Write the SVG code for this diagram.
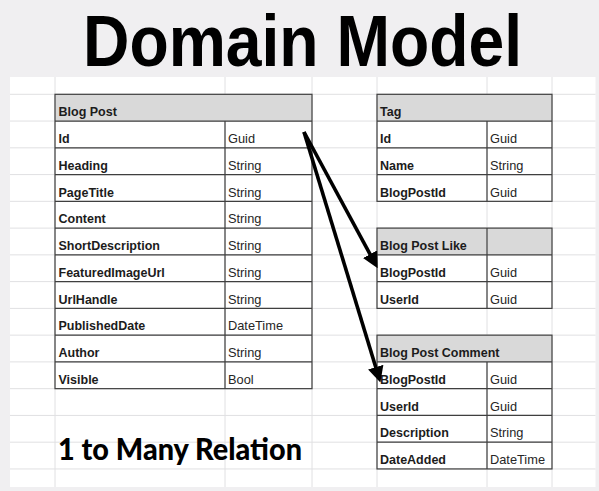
<svg xmlns="http://www.w3.org/2000/svg" width="599" height="491" viewBox="0 0 599 491">
<style>
.grid{stroke:#e0e0e2;stroke-width:1;fill:none}
.hdr{fill:#d9d9d9}
.bd{stroke:#3f3f3f;stroke-width:1.2;fill:none}
.n{font-family:"Liberation Sans",Arial,sans-serif;font-weight:bold;font-size:12.5px;fill:#1c1c1c}
.t{font-family:"Liberation Sans",Arial,sans-serif;font-size:12.8px;fill:#262626}
.big{font-weight:900;fill:#000}
.arr{stroke:#000;stroke-width:3.6;fill:none;marker-end:url(#ah)}
</style>
<defs>
<marker id="ah" markerUnits="userSpaceOnUse" markerWidth="16" markerHeight="16" refX="8" refY="7.5" orient="auto" viewBox="0 0 15 15">
<path d="M0,0 L15,7.5 L0,15 z" fill="#000"/>
</marker>
</defs>
<rect width="599" height="491" fill="#f0eff1"/>
<rect x="10" y="77" width="585.5" height="410" fill="#fff"/>
<g class="grid">
<path d="M10,94.3H595.5M10,121.06H595.5M10,147.82H595.5M10,174.58H595.5M10,201.34H595.5M10,228.1H595.5M10,254.86H595.5M10,281.62H595.5M10,308.38H595.5M10,335.14H595.5M10,361.9H595.5M10,388.66H595.5M10,415.42H595.5M10,442.18H595.5M10,468.94H595.5"/>
<path d="M55,77V487M225,77V487M312,77V487M377,77V487M487,77V487M552,77V487"/>
</g>
<text class="big" x="83" y="65.7" font-family="'Liberation Sans',Arial,sans-serif" font-size="72" textLength="439" lengthAdjust="spacingAndGlyphs">Domain Model</text>

<g id="blogpost">
<rect class="hdr" x="55" y="94.3" width="257" height="26.76"/>
<rect class="bd" x="55" y="94.3" width="257" height="294.36"/>
<path class="bd" d="M55,121.06H312M55,147.82H312M55,174.58H312M55,201.34H312M55,228.1H312M55,254.86H312M55,281.62H312M55,308.38H312M55,335.14H312M55,361.9H312M225,121.06V388.66"/>
<text class="n" x="58.5" y="116.3">Blog Post</text>
<text class="n" x="58.5" y="143">Id</text><text class="t" x="228" y="143">Guid</text>
<text class="n" x="58.5" y="169.8">Heading</text><text class="t" x="228" y="169.8">String</text>
<text class="n" x="58.5" y="196.5">PageTitle</text><text class="t" x="228" y="196.5">String</text>
<text class="n" x="58.5" y="223.3">Content</text><text class="t" x="228" y="223.3">String</text>
<text class="n" x="58.5" y="250.1">ShortDescription</text><text class="t" x="228" y="250.1">String</text>
<text class="n" x="58.5" y="276.8">FeaturedImageUrl</text><text class="t" x="228" y="276.8">String</text>
<text class="n" x="58.5" y="303.6">UrlHandle</text><text class="t" x="228" y="303.6">String</text>
<text class="n" x="58.5" y="330.3">PublishedDate</text><text class="t" x="228" y="330.3">DateTime</text>
<text class="n" x="58.5" y="357.1">Author</text><text class="t" x="228" y="357.1">String</text>
<text class="n" x="58.5" y="383.9">Visible</text><text class="t" x="228" y="383.9">Bool</text>
</g>

<g id="tag">
<rect class="hdr" x="377" y="94.3" width="175" height="26.76"/>
<rect class="bd" x="377" y="94.3" width="175" height="107.04"/>
<path class="bd" d="M377,121.06H552M377,147.82H552M377,174.58H552M487,121.06V201.34"/>
<text class="n" x="380" y="116.3">Tag</text>
<text class="n" x="380" y="143">Id</text><text class="t" x="490" y="143">Guid</text>
<text class="n" x="380" y="169.8">Name</text><text class="t" x="490" y="169.8">String</text>
<text class="n" x="380" y="196.5">BlogPostId</text><text class="t" x="490" y="196.5">Guid</text>
</g>

<g id="blogpostlike">
<rect class="hdr" x="377" y="228.1" width="175" height="26.76"/>
<rect class="bd" x="377" y="228.1" width="175" height="80.28"/>
<path class="bd" d="M377,254.86H552M377,281.62H552M487,228.1V308.38"/>
<text class="n" x="380" y="250.1">Blog Post Like</text>
<text class="n" x="380" y="276.8">BlogPostId</text><text class="t" x="490" y="276.8">Guid</text>
<text class="n" x="380" y="303.6">UserId</text><text class="t" x="490" y="303.6">Guid</text>
</g>

<g id="blogpostcomment">
<rect class="hdr" x="377" y="335.14" width="175" height="26.76"/>
<rect class="bd" x="377" y="335.14" width="175" height="133.8"/>
<path class="bd" d="M377,361.9H552M377,388.66H552M377,415.42H552M377,442.18H552M487,361.9V468.94"/>
<text class="n" x="380" y="357.1">Blog Post Comment</text>
<text class="n" x="380" y="383.9">BlogPostId</text><text class="t" x="490" y="383.9">Guid</text>
<text class="n" x="380" y="410.6">UserId</text><text class="t" x="490" y="410.6">Guid</text>
<text class="n" x="380" y="437.4">Description</text><text class="t" x="490" y="437.4">String</text>
<text class="n" x="380" y="464.1">DateAdded</text><text class="t" x="490" y="464.1">DateTime</text>
</g>

<g id="connectors">
<path class="arr" d="M304,132 L374.1,261.7"/>
<path class="arr" d="M304,132 L378.2,375.3"/>
</g>

<text class="big" x="58" y="460" font-family="Lato,Inter,'Liberation Sans',sans-serif" font-size="30" font-weight="800" textLength="244" lengthAdjust="spacingAndGlyphs">1 to Many Relation</text>
</svg>
